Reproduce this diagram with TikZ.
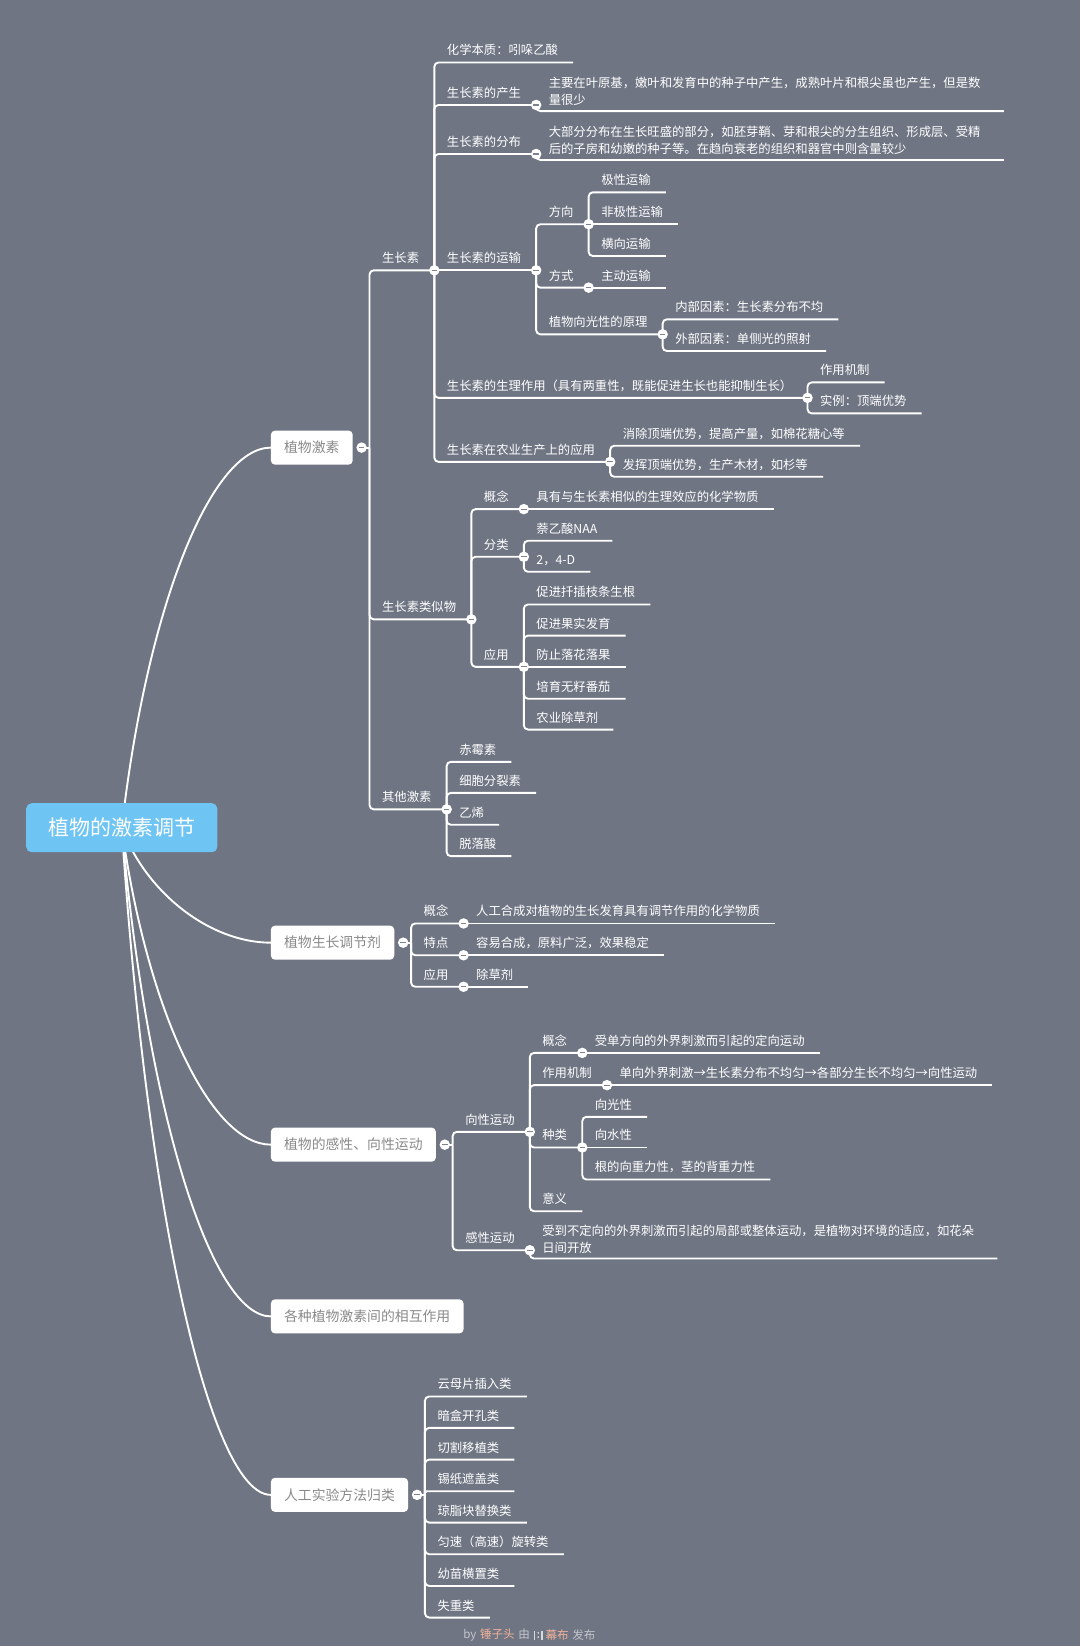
\documentclass[tikz,border=0pt]{standalone}
\usepackage{fontspec}
\setmainfont{Noto Sans CJK SC}
\usetikzlibrary{calc}
\pgfdeclarelayer{bglayer}
\pgfdeclarelayer{linelayer}
\pgfsetlayers{bglayer,linelayer,main}
\definecolor{bgcol}{HTML}{6F7583}
\definecolor{rootblue}{HTML}{6EC4F3}
\definecolor{topicgray}{HTML}{8A8A8A}
\definecolor{minusgray}{HTML}{7E848F}
\definecolor{footgray}{HTML}{C2C6CD}
\definecolor{footorange}{HTML}{F2B29A}
\definecolor{logogray}{HTML}{D6D9DE}
\newcommand\myleaffont{\fontsize{11.75}{16.5}\selectfont}
\newcommand\mytopicfont{\fontsize{13.2}{16}\selectfont}
\newcommand\myrootfont{\fontsize{20}{24}\selectfont}
\newcommand\myfootfont{\fontsize{11}{13}\selectfont}
\newcommand\mylk[3][4pt]{\draw[conn,rounded corners=#1] (#2) |- (#3.south east);}
\newcommand\myls[2]{\draw[conn] (#1) -- (#2.south east);}
\newcommand\twol[2]{\begin{tabular}[b]{@{}p{419pt}@{}}#1\\#2\end{tabular}}
\begin{document}
\begin{tikzpicture}[x=1pt,y=-1pt,
  conn/.style={draw=white, line width=1.8pt},
  rootlink/.style={draw=white, line width=1.8pt},
  leaf/.style={anchor=south west, font=\myleaffont, text=white, inner xsep=12pt, inner ysep=7.2pt, outer sep=0pt, text depth=0pt, execute at end node={\hspace*{2.5pt}}},
  twoline/.style={leaf, inner ysep=5.8pt},
  topic/.style={anchor=west, fill=white, rounded corners=4pt, text=topicgray, font=\mytopicfont, inner xsep=12.6pt, inner ysep=0pt, minimum height=32.5pt, outer sep=0pt},
  rootbox/.style={fill=rootblue, rounded corners=5pt, text=white, font=\myrootfont, minimum width=182pt, minimum height=46.7pt, inner sep=0pt},
  knob/.style={circle, fill=white, minimum size=10pt, inner sep=0pt, outer sep=0pt,
    path picture={\draw[minusgray, line width=1.1pt] ([xshift=-2.6pt]path picture bounding box.center) -- ([xshift=2.6pt]path picture bounding box.center);}}
]
\begin{pgfonlayer}{bglayer}
\fill[bgcol] (0,0) rectangle (1029,1568);
\end{pgfonlayer}
\useasboundingbox (0,0) rectangle (1029,1568);

% root and topics
\node[rootbox] (root) at (116,788.5) {植物的激素调节};
\node[topic] (t1) at (258,426.4) {植物激素};
\node[topic] (t2) at (258,898) {植物生长调节剂};
\node[topic] (t3) at (258,1090.4) {植物的感性、向性运动};
\node[topic] (t4) at (258,1254) {各种植物激素间的相互作用};
\node[topic] (t5) at (258,1424) {人工实验方法归类};

% ---------- topic 1 ----------
\coordinate (k1) at ([xshift=16pt]t1.east);
\node[knob] (d1) at ([xshift=8.5pt]t1.east) {};
\node[leaf] (a1) at (k1 |- 0,257.5) {生长素};
\node[leaf] (a2) at (k1 |- 0,590) {生长素类似物};
\node[leaf] (a3) at (k1 |- 0,771) {其他激素};

\node[leaf] (b1) at (a1.south east |- 0,59.5) {化学本质：吲哚乙酸};
\node[leaf] (b2) at (a1.south east |- 0,100) {生长素的产生};
\node[twoline] (b2x) at (b2.south east |- 0,105.8) {\twol{主要在叶原基，嫩叶和发育中的种子中产生，成熟叶片和根尖虽也产生，但是数}{量很少}};
\node[leaf] (b3) at (a1.south east |- 0,146.7) {生长素的分布};
\node[twoline] (b3x) at (b3.south east |- 0,152.4) {\twol{大部分分布在生长旺盛的部分，如胚芽鞘、芽和根尖的分生组织、形成层、受精}{后的子房和幼嫩的种子等。在趋向衰老的组织和器官中则含量较少}};
\node[leaf] (b4) at (a1.south east |- 0,257.5) {生长素的运输};
\node[leaf] (c1) at (b4.south east |- 0,213.6) {方向};
\node[leaf] (c1a) at (c1.south east |- 0,183.2) {极性运输};
\node[leaf] (c1b) at (c1.south east |- 0,213.6) {非极性运输};
\node[leaf] (c1c) at (c1.south east |- 0,243.9) {横向运输};
\node[leaf] (c2) at (b4.south east |- 0,274) {方式};
\node[leaf] (c2a) at (c2.south east |- 0,274) {主动运输};
\node[leaf] (c3) at (b4.south east |- 0,318.5) {植物向光性的原理};
\node[leaf] (c3a) at (c3.south east |- 0,304.2) {内部因素：生长素分布不均};
\node[leaf] (c3b) at (c3.south east |- 0,334.4) {外部因素：单侧光的照射};
\node[leaf] (b5) at (a1.south east |- 0,379) {生长素的生理作用（具有两重性，既能促进生长也能抑制生长）};
\node[leaf] (b5a) at (b5.south east |- 0,364.3) {作用机制};
\node[leaf] (b5b) at (b5.south east |- 0,393.8) {实例：顶端优势};
\node[leaf] (b6) at (a1.south east |- 0,440) {生长素在农业生产上的应用};
\node[leaf] (b6a) at (b6.south east |- 0,424.6) {消除顶端优势，提高产量，如棉花糖心等};
\node[leaf] (b6b) at (b6.south east |- 0,454.2) {发挥顶端优势，生产木材，如杉等};

\node[leaf] (e1) at (a2.south east |- 0,485) {概念};
\node[leaf] (e1a) at (e1.south east |- 0,485) {具有与生长素相似的生理效应的化学物质};
\node[leaf] (e2) at (a2.south east |- 0,530.4) {分类};
\node[leaf] (e2a) at (e2.south east |- 0,515.1) {萘乙酸NAA};
\node[leaf] (e2b) at (e2.south east |- 0,544.7) {2，4-D};
\node[leaf] (e3) at (a2.south east |- 0,635.2) {应用};
\node[leaf] (e3a) at (e3.south east |- 0,575.8) {促进扦插枝条生根};
\node[leaf] (e3b) at (e3.south east |- 0,605.5) {促进果实发育};
\node[leaf] (e3c) at (e3.south east |- 0,635.2) {防止落花落果};
\node[leaf] (e3d) at (e3.south east |- 0,665.6) {培育无籽番茄};
\node[leaf] (e3e) at (e3.south east |- 0,695) {农业除草剂};

\node[leaf] (f1) at (a3.south east |- 0,725.7) {赤霉素};
\node[leaf] (f2) at (a3.south east |- 0,755.3) {细胞分裂素};
\node[leaf] (f3) at (a3.south east |- 0,785.7) {乙烯};
\node[leaf] (f4) at (a3.south east |- 0,815.6) {脱落酸};

% ---------- topic 2 ----------
\coordinate (k2) at ([xshift=16pt]t2.east);
\node[knob] (d2) at ([xshift=8.5pt]t2.east) {};
\node[leaf] (g1) at (k2 |- 0,879.7) {概念};
\node[leaf] (g1a) at (g1.south east |- 0,879.7) {人工合成对植物的生长发育具有调节作用的化学物质};
\node[leaf] (g2) at (k2 |- 0,910) {特点};
\node[leaf] (g2a) at (g2.south east |- 0,910) {容易合成，原料广泛，效果稳定};
\node[leaf] (g3) at (k2 |- 0,940) {应用};
\node[leaf] (g3a) at (g3.south east |- 0,940) {除草剂};

% ---------- topic 3 ----------
\coordinate (k3) at ([xshift=16pt]t3.east);
\node[knob] (d3) at ([xshift=8.5pt]t3.east) {};
\node[leaf] (h1) at (k3 |- 0,1078.2) {向性运动};
\node[leaf] (i1) at (h1.south east |- 0,1003) {概念};
\node[leaf] (i1a) at (i1.south east |- 0,1003) {受单方向的外界刺激而引起的定向运动};
\node[leaf] (i2) at (h1.south east |- 0,1033.7) {作用机制};
\node[leaf] (i2a) at (i2.south east |- 0,1033.7) {单向外界刺激→生长素分布不均匀→各部分生长不均匀→向性运动};
\node[leaf] (i3) at (h1.south east |- 0,1093.1) {种类};
\node[leaf] (i3a) at (i3.south east |- 0,1063.9) {向光性};
\node[leaf] (i3b) at (i3.south east |- 0,1093.1) {向水性};
\node[leaf] (i3c) at (i3.south east |- 0,1123.6) {根的向重力性，茎的背重力性};
\node[leaf] (i4) at (h1.south east |- 0,1153.8) {意义};
\node[leaf] (h2) at (k3 |- 0,1191) {感性运动};
\node[twoline] (h2a) at (h2.south east |- 0,1198.9) {\twol{受到不定向的外界刺激而引起的局部或整体运动，是植物对环境的适应，如花朵}{日间开放}};

% ---------- topic 5 ----------
\coordinate (k5) at ([xshift=16pt]t5.east);
\node[knob] (d5) at ([xshift=8.5pt]t5.east) {};
\node[leaf] (j1) at (k5 |- 0,1330.3) {云母片插入类};
\node[leaf] (j2) at (k5 |- 0,1360.2) {暗盒开孔类};
\node[leaf] (j3) at (k5 |- 0,1390.4) {切割移植类};
\node[leaf] (j4) at (k5 |- 0,1420.6) {锡纸遮盖类};
\node[leaf] (j5) at (k5 |- 0,1450.4) {琼脂块替换类};
\node[leaf] (j6) at (k5 |- 0,1480.6) {匀速（高速）旋转类};
\node[leaf] (j7) at (k5 |- 0,1510.8) {幼苗横置类};
\node[leaf] (j8) at (k5 |- 0,1540.9) {失重类};

% knobs on nested nodes
\foreach \n in {a1,a2,a3,b2,b3,b4,b5,b6,c1,c2,c3,e1,e2,e3,g1,g2,g3,h1,h2,i1,i2,i3}
  \node[knob] (d\n) at (\n.south east) {};

% footer
\node[anchor=east, inner sep=0pt, font=\myfootfont] (ft1) at (505,1557.7) {{\color{footgray}by}\hspace{3.5pt}{\color{footorange}锤子头}\hspace{3.5pt}{\color{footgray}由}};
\node[anchor=west, inner sep=0pt, font=\myfootfont] (ft2) at (519.5,1557.7) {{\color{footorange}幕布}\hspace{3.5pt}{\color{footgray}发布}};
\draw[logogray, line width=1.4pt] (509,1553.5) -- (509,1562) (516.5,1553.5) -- (516.5,1562);
\fill[logogray] (512.75,1555.5) circle (0.9pt) (512.75,1559.5) circle (0.9pt);

% ---------- connectors ----------
\begin{pgfonlayer}{linelayer}
\draw[rootlink] (root.center) .. controls (140,578) and (201,426.4) .. (t1.west);
\draw[rootlink] (root.center) .. controls (140,851.8) and (201,898) .. (t2.west);
\draw[rootlink] (root.center) .. controls (140,963.4) and (201,1090.4) .. (t3.west);
\draw[rootlink] (root.center) .. controls (140,1058.3) and (201,1254) .. (t4.west);
\draw[rootlink] (root.center) .. controls (140,1156.9) and (201,1424) .. (t5.west);

\draw[conn] (d1.center) -- (k1);
\mylk{k1}{a1} \mylk{k1}{a2} \mylk{k1}{a3}
\mylk{a1.south east}{b1} \mylk{a1.south east}{b2} \mylk{a1.south east}{b3}
\myls{a1.south east}{b4} \mylk{a1.south east}{b5} \mylk{a1.south east}{b6}
\mylk{b2.south east}{b2x} \mylk{b3.south east}{b3x}
\mylk{b4.south east}{c1} \mylk{b4.south east}{c2} \mylk{b4.south east}{c3}
\mylk{c1.south east}{c1a} \myls{c1.south east}{c1b} \mylk{c1.south east}{c1c}
\myls{c2.south east}{c2a}
\mylk{c3.south east}{c3a} \mylk{c3.south east}{c3b}
\mylk{b5.south east}{b5a} \mylk{b5.south east}{b5b}
\mylk{b6.south east}{b6a} \mylk{b6.south east}{b6b}
\mylk{a2.south east}{e1} \mylk{a2.south east}{e2} \mylk{a2.south east}{e3}
\myls{e1.south east}{e1a}
\mylk{e2.south east}{e2a} \mylk{e2.south east}{e2b}
\mylk{e3.south east}{e3a} \mylk{e3.south east}{e3b} \myls{e3.south east}{e3c}
\mylk{e3.south east}{e3d} \mylk{e3.south east}{e3e}
\mylk{a3.south east}{f1} \mylk{a3.south east}{f2} \mylk{a3.south east}{f3} \mylk{a3.south east}{f4}

\draw[conn] (d2.center) -- (k2);
\mylk{k2}{g1} \mylk{k2}{g2} \mylk{k2}{g3}
\myls{g1.south east}{g1a} \myls{g2.south east}{g2a} \myls{g3.south east}{g3a}

\draw[conn] (d3.center) -- (k3);
\mylk{k3}{h1} \mylk{k3}{h2}
\mylk{h1.south east}{i1} \mylk{h1.south east}{i2} \mylk{h1.south east}{i3} \mylk{h1.south east}{i4}
\myls{i1.south east}{i1a} \myls{i2.south east}{i2a}
\mylk{i3.south east}{i3a} \myls{i3.south east}{i3b} \mylk{i3.south east}{i3c}
\mylk{h2.south east}{h2a}

\draw[conn] (d5.center) -- (k5);
\mylk{k5}{j1} \mylk{k5}{j2} \mylk{k5}{j3} \mylk[1.5pt]{k5}{j4}
\mylk{k5}{j5} \mylk{k5}{j6} \mylk{k5}{j7} \mylk{k5}{j8}
\end{pgfonlayer}
\end{tikzpicture}
\end{document}
